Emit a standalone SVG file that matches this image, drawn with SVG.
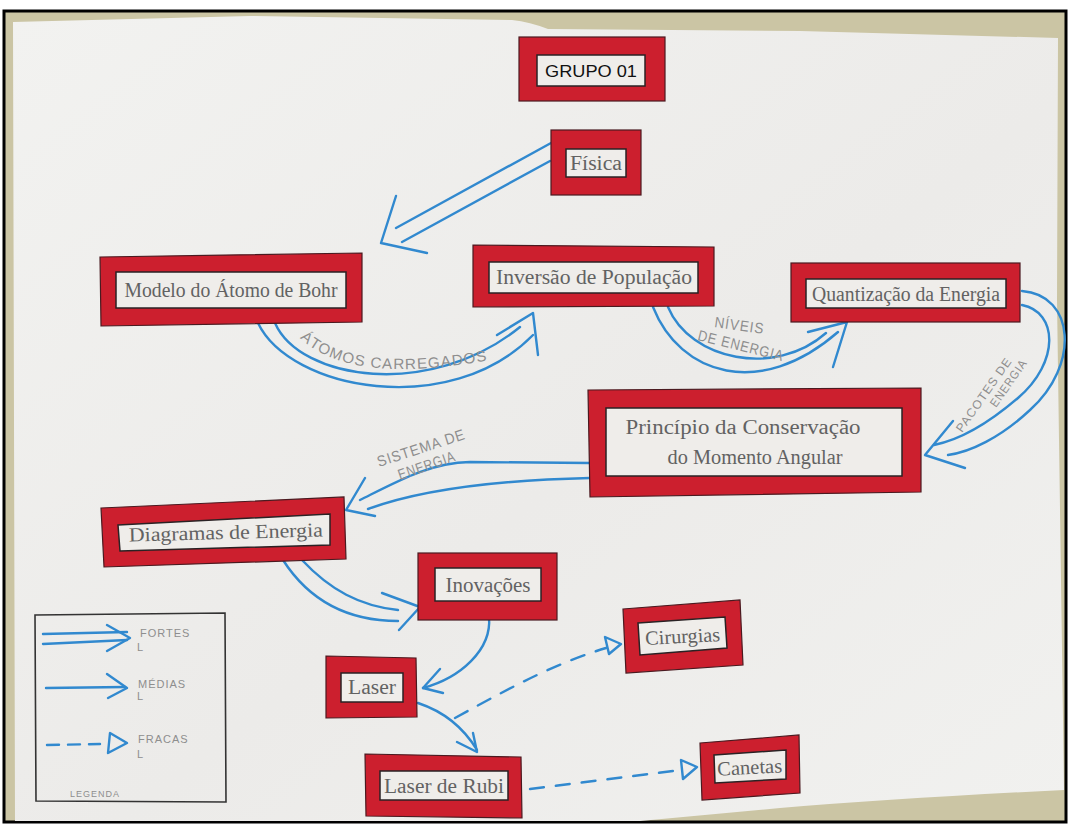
<svg xmlns="http://www.w3.org/2000/svg" width="1070" height="826" viewBox="0 0 1070 826">
  <style>
    .frame { fill: #cbc5a4; stroke: #000; stroke-width: 3; }
    .paper { fill: url(#paperShade); }
    .box { fill: #cc1f2e; stroke: #4a1a20; stroke-width: 1.2; }
    .lbl { fill: #efedea; stroke: #2a2224; stroke-width: 1.5; }
    .t { font-family: "Liberation Serif", "DejaVu Serif", serif; font-size: 20px; fill: #626262; text-anchor: middle; }
    .ts { font-family: "Liberation Sans", Arial, sans-serif; font-size: 17px; fill: #111; text-anchor: middle; }
    .pen { fill: none; stroke: #3189cf; stroke-width: 2.4; stroke-linecap: round; stroke-linejoin: round; }
    .dash { fill: none; stroke: #3189cf; stroke-width: 2.4; stroke-dasharray: 14 12; stroke-linecap: round; }
    .hand { font-family: "Liberation Sans", "DejaVu Sans", sans-serif; font-size: 15px; fill: #8e8e8e; letter-spacing: 1px; }
    .legend { fill: none; stroke: #333; stroke-width: 1.6; }
    .small { font-family: "Liberation Sans", "DejaVu Sans", sans-serif; font-size: 11px; fill: #8e8e8e; letter-spacing: 1px; }
  </style>
  <defs>
    <linearGradient id="paperShade" x1="0" y1="0" x2="1" y2="1">
      <stop offset="0" stop-color="#f2f2f0"/>
      <stop offset="0.55" stop-color="#ecebe9"/>
      <stop offset="1" stop-color="#f1f1ef"/>
    </linearGradient>
  </defs>

  <!-- wall and sheet -->
  <rect class="frame" x="4" y="11" width="1062" height="811"/>
  <path class="paper" d="M 13 22 L 250 16 L 512 20 Q 530 22 548 29 L 800 31 L 1058 38 L 1057 300 L 1064 790 Q 900 798 780 808 L 640 821 L 15 821 Z"/>

  <!-- connectors -->
  <g id="connectors">
    <!-- Física to Modelo (strong) -->
    <path class="pen" d="M 551 143 L 396 228"/>
    <path class="pen" d="M 550 161 L 402 242"/>
    <path class="pen" d="M 396 196 L 381 243 L 427 253"/>

    <!-- Modelo to Inversão (strong) -->
    <path class="pen" d="M 258 323 C 290 390, 450 420, 533 335"/>
    <path class="pen" d="M 275 323 C 300 380, 430 400, 520 327"/>
    <path class="pen" d="M 497 335 L 533 313 L 538 355"/>
    <path id="lblAtomos" fill="none" d="M 300 338 Q 350 386 490 360"/>
    <text class="hand"><textPath href="#lblAtomos" textLength="196" lengthAdjust="spacingAndGlyphs">ÁTOMOS CARREGADOS</textPath></text>

    <!-- Inversão to Quantização (strong) -->
    <path class="pen" d="M 653 307 C 680 375, 760 400, 838 332"/>
    <path class="pen" d="M 668 307 C 690 360, 775 378, 826 333"/>
    <path class="pen" d="M 808 332 L 847 322 L 833 367"/>
    <text class="hand" transform="translate(714 327) rotate(8)" textLength="50" lengthAdjust="spacingAndGlyphs">NÍVEIS</text>
    <text class="hand" transform="translate(697 340) rotate(14)" textLength="88" lengthAdjust="spacingAndGlyphs">DE ENERGIA</text>

    <!-- Quantização to Princípio (strong) -->
    <path class="pen" d="M 1022 291 C 1075 295, 1080 365, 1030 410 C 1000 438, 970 452, 948 455"/>
    <path class="pen" d="M 1022 305 C 1058 312, 1060 362, 1018 398 C 990 422, 960 440, 934 445"/>
    <path class="pen" d="M 953 421 L 925 455 L 965 468"/>
    <text class="hand" style="font-size:12px" transform="translate(962 433) rotate(-55)" textLength="88" lengthAdjust="spacingAndGlyphs">PACOTES DE</text>
    <text class="hand" style="font-size:12px" transform="translate(996 408) rotate(-55)" textLength="55" lengthAdjust="spacingAndGlyphs">ENERGIA</text>

    <!-- Princípio to Diagramas (strong) -->
    <path class="pen" d="M 590 463 L 470 462 C 430 463, 400 480, 360 500"/>
    <path class="pen" d="M 590 478 C 500 480, 420 490, 368 509"/>
    <path class="pen" d="M 365 478 L 346 510 L 375 516"/>
    <text class="hand" transform="translate(379 467) rotate(-18)" textLength="92" lengthAdjust="spacingAndGlyphs">SISTEMA DE</text>
    <text class="hand" transform="translate(400 480) rotate(-19)" textLength="60" lengthAdjust="spacingAndGlyphs">ENERGIA</text>

    <!-- Diagramas to Inovações (strong) -->
    <path class="pen" d="M 283 560 C 310 602, 350 621, 398 621"/>
    <path class="pen" d="M 302 560 C 330 590, 360 606, 398 610"/>
    <path class="pen" d="M 382 593 L 420 607 L 399 630"/>

    <!-- Inovações to Laser (medium) -->
    <path class="pen" d="M 489 617 C 492 650, 460 678, 423 688"/>
    <path class="pen" d="M 440 669 L 423 688 L 443 693"/>

    <!-- Laser to Laser de Rubi (medium) -->
    <path class="pen" d="M 418 703 C 445 712, 465 730, 477 750"/>
    <path class="pen" d="M 457 742 L 477 752 L 473 733"/>

    <!-- Laser to Cirurgias (weak) -->
    <path class="dash" d="M 455 718 C 520 682, 560 662, 606 648"/>
    <path class="pen" d="M 621 644 L 605 637 L 609 654 Z"/>

    <!-- Laser de Rubi to Canetas (weak) -->
    <path class="dash" d="M 530 789 L 681 770"/>
    <path class="pen" d="M 697 767 L 681 760 L 683 779 Z"/>
  </g>

  <!-- nodes -->
  <g id="node-grupo">
    <rect class="box" x="519" y="37" width="146" height="64"/>
    <rect class="lbl" x="537" y="55" width="108" height="31"/>
    <text class="ts" x="591" y="77" textLength="92" lengthAdjust="spacingAndGlyphs">GRUPO 01</text>
  </g>

  <g id="node-fisica">
    <rect class="box" x="551" y="130" width="90" height="65"/>
    <rect class="lbl" x="566" y="149" width="60" height="28"/>
    <text class="t" x="596" y="170" textLength="52" lengthAdjust="spacingAndGlyphs">Física</text>
  </g>

  <g id="node-modelo">
    <polygon class="box" points="100,257 362,253 362,322 101,326"/>
    <rect class="lbl" x="116" y="272" width="230" height="36"/>
    <text class="t" x="231" y="297" textLength="213" lengthAdjust="spacingAndGlyphs">Modelo do Átomo de Bohr</text>
  </g>

  <g id="node-inversao">
    <polygon class="box" points="473,245 714,247 714,306 473,307"/>
    <rect class="lbl" x="489" y="262" width="209" height="31"/>
    <text class="t" x="594" y="284" textLength="196" lengthAdjust="spacingAndGlyphs">Inversão de População</text>
  </g>

  <g id="node-quantizacao">
    <rect class="box" x="791" y="263" width="229" height="59"/>
    <rect class="lbl" x="806" y="279" width="200" height="29"/>
    <text class="t" x="906" y="301" textLength="188" lengthAdjust="spacingAndGlyphs">Quantização da Energia</text>
  </g>

  <g id="node-principio">
    <polygon class="box" points="588,390 921,388 921,492 590,497"/>
    <rect class="lbl" x="606" y="408" width="296" height="68"/>
    <text class="t" x="743" y="434" textLength="235" lengthAdjust="spacingAndGlyphs">Princípio da Conservação</text>
    <text class="t" x="755" y="464" textLength="175" lengthAdjust="spacingAndGlyphs">do Momento Angular</text>
  </g>

  <g id="node-diagramas">
    <polygon class="box" points="101,508 344,497 346,559 104,567"/>
    <polygon class="lbl" points="118,525 330,514 330,545 120,551"/>
    <text class="t" x="226" y="539" textLength="194" lengthAdjust="spacingAndGlyphs" transform="rotate(-1.5 226 539)">Diagramas de Energia</text>
  </g>

  <g id="node-inovacoes">
    <rect class="box" x="418" y="553" width="139" height="67"/>
    <rect class="lbl" x="435" y="568" width="106" height="33"/>
    <text class="t" x="488" y="592" textLength="85" lengthAdjust="spacingAndGlyphs">Inovações</text>
  </g>

  <g id="node-cirurgias">
    <polygon class="box" points="623,609 740,600 743,665 626,673"/>
    <polygon class="lbl" points="638,623 725,617 727,648 640,655"/>
    <text class="t" x="683" y="643" textLength="75" lengthAdjust="spacingAndGlyphs" transform="rotate(-3 683 643)">Cirurgias</text>
  </g>

  <g id="node-laser">
    <polygon class="box" points="326,656 416,658 417,717 326,718"/>
    <rect class="lbl" x="341" y="673" width="62" height="29"/>
    <text class="t" x="372" y="694" textLength="48" lengthAdjust="spacingAndGlyphs">Laser</text>
  </g>

  <g id="node-rubi">
    <polygon class="box" points="365,754 521,757 522,818 366,816"/>
    <rect class="lbl" x="380" y="771" width="128" height="29"/>
    <text class="t" x="444" y="793" textLength="120" lengthAdjust="spacingAndGlyphs">Laser de Rubi</text>
  </g>

  <g id="node-canetas">
    <polygon class="box" points="700,743 799,735 800,793 702,800"/>
    <polygon class="lbl" points="714,755 786,750 786,779 715,783"/>
    <text class="t" x="750" y="774" textLength="65" lengthAdjust="spacingAndGlyphs" transform="rotate(-3 750 774)">Canetas</text>
  </g>

  <!-- key -->
  <g id="legenda">
    <path class="legend" d="M 35 615 L 225 613 L 226 802 L 36 801 Z"/>
    <path class="pen" d="M 43 634 L 127 632"/>
    <path class="pen" d="M 43 644 L 127 640"/>
    <path class="pen" d="M 107 625 L 130 638 L 107 651"/>
    <text class="small" x="140" y="637">FORTES</text>
    <text class="small" x="137" y="651">L</text>

    <path class="pen" d="M 46 688 L 125 687"/>
    <path class="pen" d="M 107 674 L 127 688 L 108 698"/>
    <text class="small" x="138" y="688">MÉDIAS</text>
    <text class="small" x="137" y="700">L</text>

    <path class="dash" d="M 47 745 L 100 744" style="stroke-dasharray: 12 9"/>
    <path class="pen" d="M 127 743 L 110 733 L 108 753 Z"/>
    <text class="small" x="138" y="743">FRACAS</text>
    <text class="small" x="137" y="758">L</text>

    <text class="small" x="70" y="797" style="font-size:9px">LEGENDA</text>
  </g>
</svg>
